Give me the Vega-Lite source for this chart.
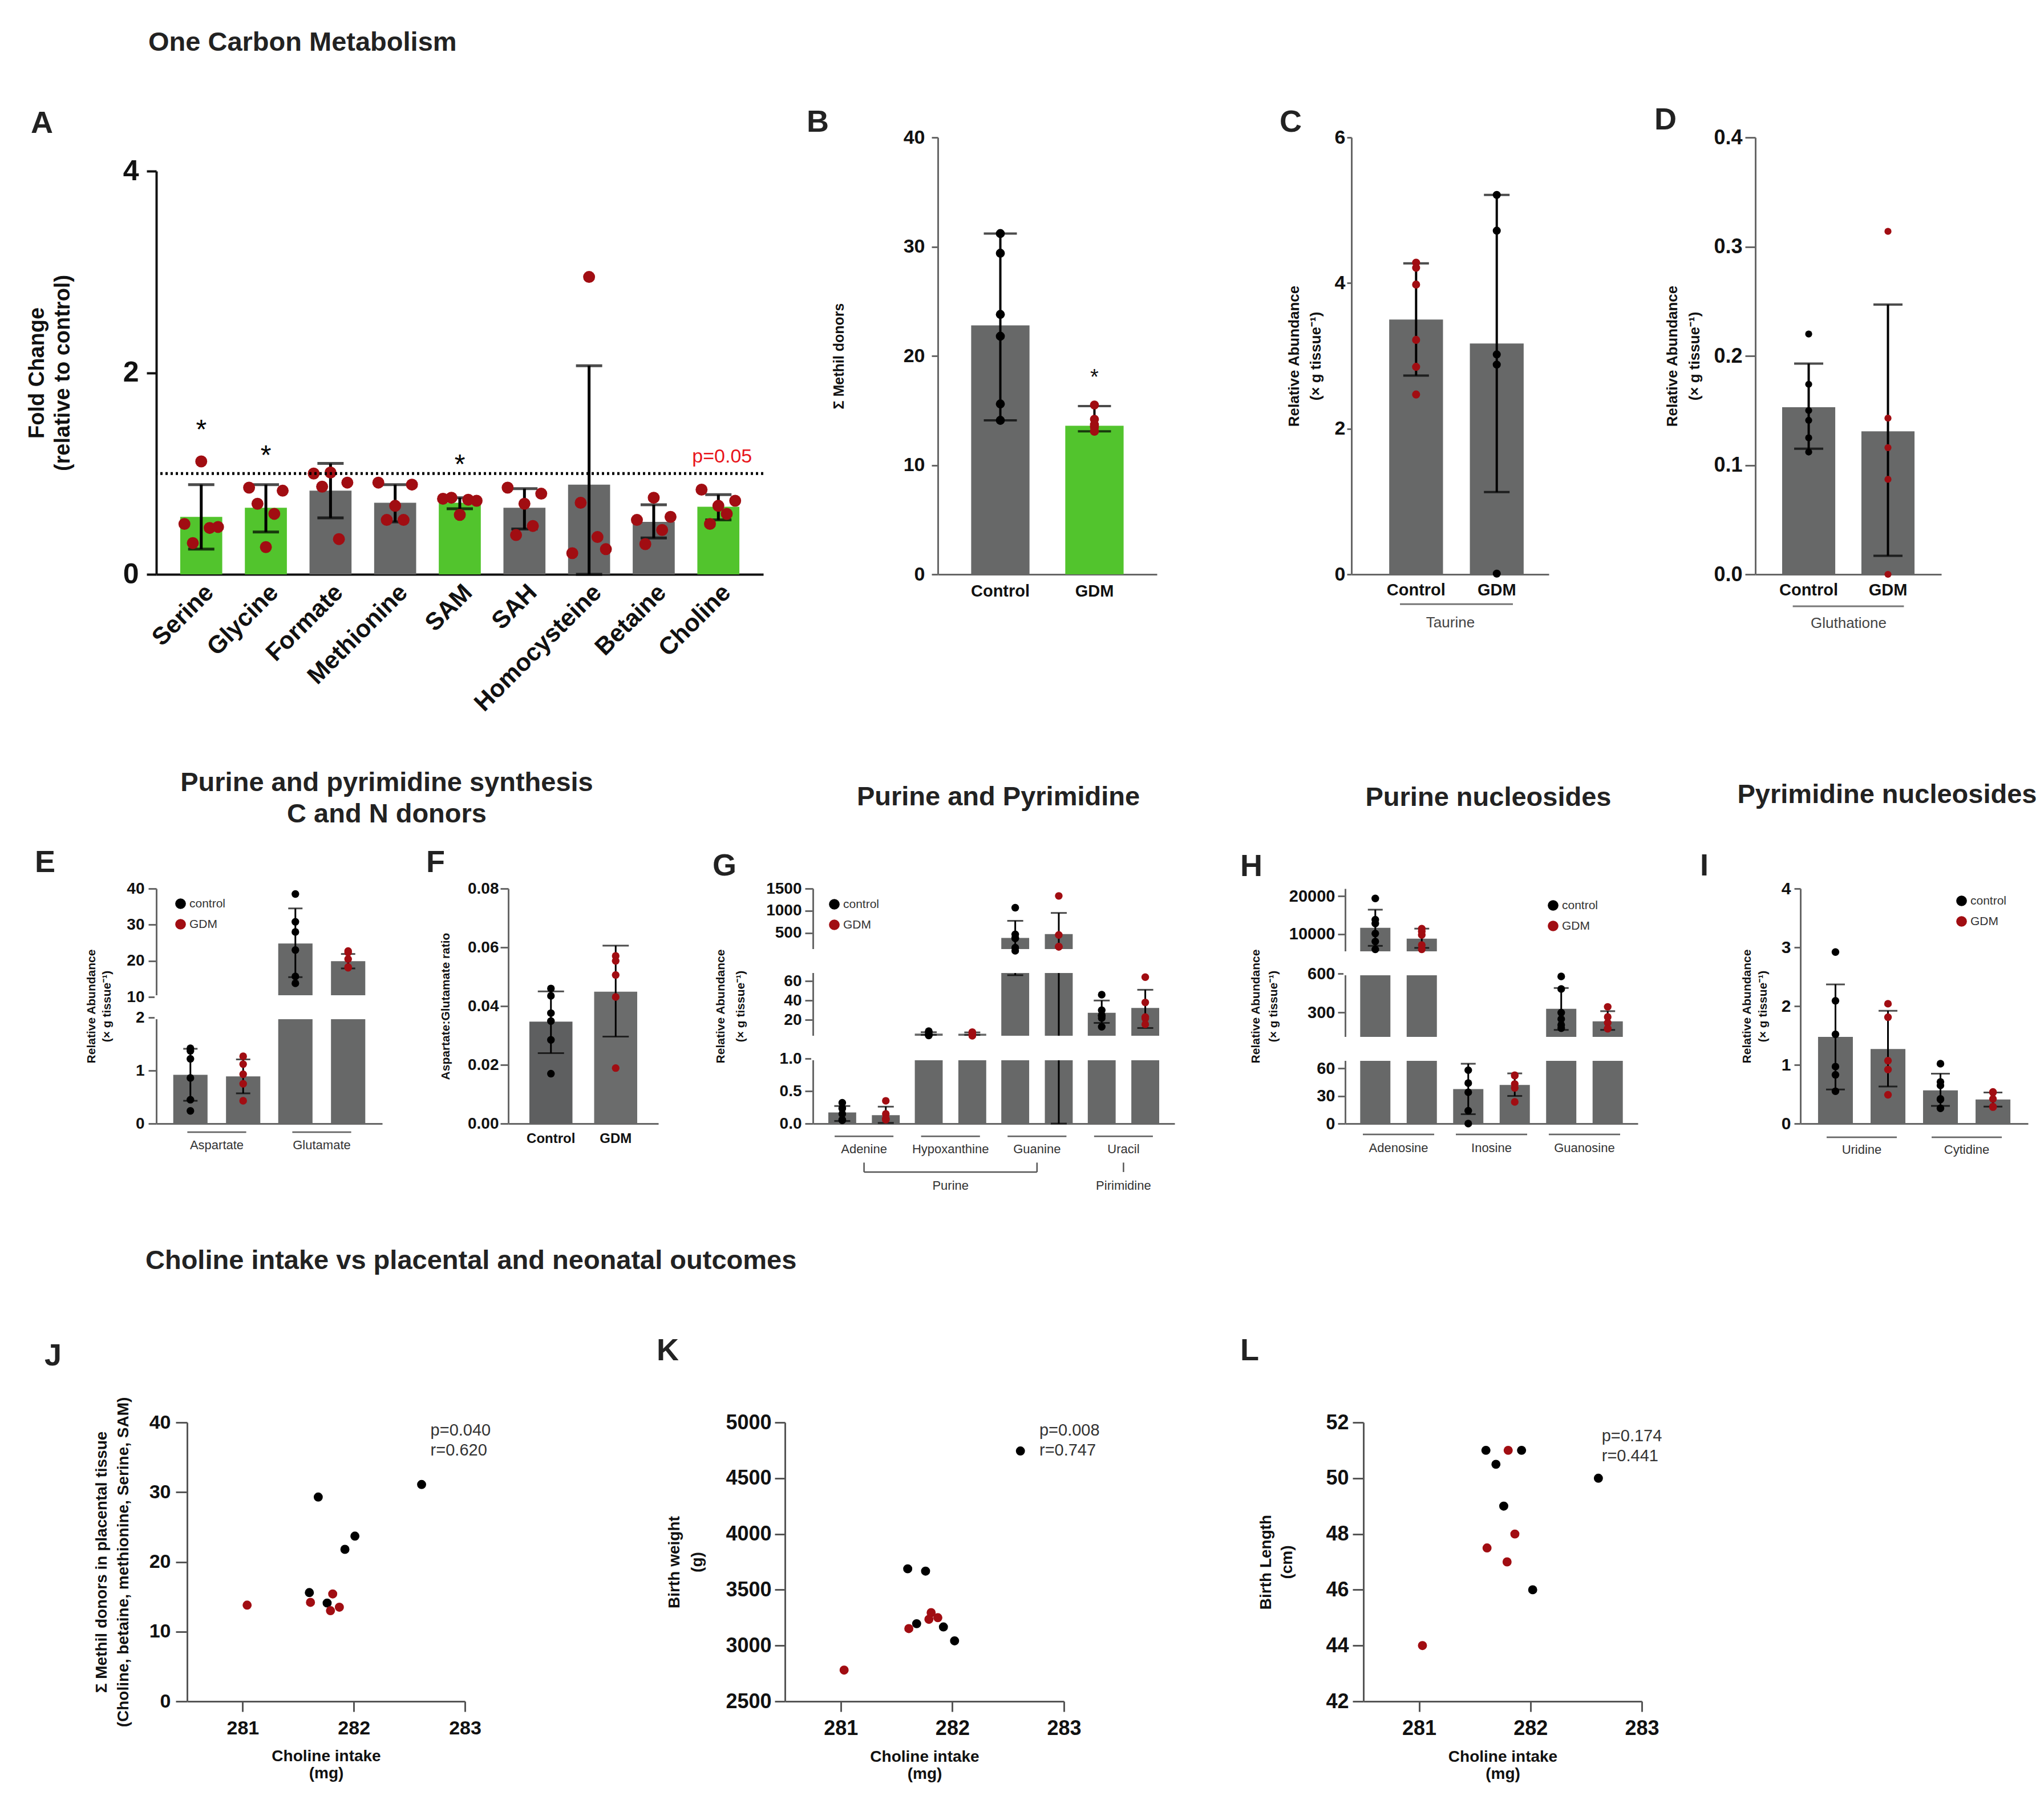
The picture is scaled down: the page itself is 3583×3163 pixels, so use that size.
{
"$schema": "https://vega.github.io/schema/vega-lite/v6.json",
"background": "white",
"padding": {"left": 46, "top": 50, "right": 5, "bottom": 5},
"config": {
  "font": "Liberation Sans",
  "view": {"stroke": null},
  "axis": {"grid": false, "domainColor": "#5a5a5a", "tickColor": "#5a5a5a", "domainWidth": 3, "tickWidth": 3, "labelColor": "#111", "titleColor": "#111", "labelFont": "Liberation Sans", "titleFont": "Liberation Sans", "labelLimit": 1000, "titleLimit": 1500, "labelOverlap": false, "labelFlush": false},
  "title": {"font": "Liberation Sans", "fontWeight": "bold", "color": "#222"},
  "legend": {"labelFont": "Liberation Sans", "labelColor": "#333"}
},
"datasets": {
  "A_bar": [
    {"m": "Serine", "mean": 0.57, "lo": 0.25, "hi": 0.89, "sig": "yes"},
    {"m": "Glycine", "mean": 0.66, "lo": 0.42, "hi": 0.89, "sig": "yes"},
    {"m": "Formate", "mean": 0.83, "lo": 0.56, "hi": 1.10, "sig": "no"},
    {"m": "Methionine", "mean": 0.71, "lo": 0.52, "hi": 0.89, "sig": "no"},
    {"m": "SAM", "mean": 0.71, "lo": 0.65, "hi": 0.76, "sig": "yes"},
    {"m": "SAH", "mean": 0.66, "lo": 0.45, "hi": 0.85, "sig": "no"},
    {"m": "Homocysteine", "mean": 0.89, "lo": 0.0, "hi": 2.07, "sig": "no"},
    {"m": "Betaine", "mean": 0.52, "lo": 0.36, "hi": 0.69, "sig": "no"},
    {"m": "Choline", "mean": 0.67, "lo": 0.54, "hi": 0.79, "sig": "yes"}
  ],
  "A_pts": [
    {"m": "Serine", "s": 1, "v": 0.50}, {"m": "Serine", "s": 2, "v": 0.31}, {"m": "Serine", "s": 3, "v": 1.12}, {"m": "Serine", "s": 4, "v": 0.46}, {"m": "Serine", "s": 5, "v": 0.47},
    {"m": "Glycine", "s": 1, "v": 0.86}, {"m": "Glycine", "s": 2, "v": 0.70}, {"m": "Glycine", "s": 3, "v": 0.27}, {"m": "Glycine", "s": 4, "v": 0.60}, {"m": "Glycine", "s": 5, "v": 0.83},
    {"m": "Formate", "s": 1, "v": 1.00}, {"m": "Formate", "s": 2, "v": 0.87}, {"m": "Formate", "s": 3, "v": 1.01}, {"m": "Formate", "s": 4, "v": 0.35}, {"m": "Formate", "s": 5, "v": 0.91},
    {"m": "Methionine", "s": 1, "v": 0.91}, {"m": "Methionine", "s": 2, "v": 0.54}, {"m": "Methionine", "s": 3, "v": 0.68}, {"m": "Methionine", "s": 4, "v": 0.54}, {"m": "Methionine", "s": 5, "v": 0.89},
    {"m": "SAM", "s": 1, "v": 0.75}, {"m": "SAM", "s": 2, "v": 0.76}, {"m": "SAM", "s": 3, "v": 0.59}, {"m": "SAM", "s": 4, "v": 0.74}, {"m": "SAM", "s": 5, "v": 0.73},
    {"m": "SAH", "s": 1, "v": 0.86}, {"m": "SAH", "s": 2, "v": 0.39}, {"m": "SAH", "s": 3, "v": 0.70}, {"m": "SAH", "s": 4, "v": 0.48}, {"m": "SAH", "s": 5, "v": 0.80},
    {"m": "Homocysteine", "s": 1, "v": 0.21}, {"m": "Homocysteine", "s": 2, "v": 0.71}, {"m": "Homocysteine", "s": 3, "v": 2.95}, {"m": "Homocysteine", "s": 4, "v": 0.37}, {"m": "Homocysteine", "s": 5, "v": 0.25},
    {"m": "Betaine", "s": 1, "v": 0.54}, {"m": "Betaine", "s": 2, "v": 0.30}, {"m": "Betaine", "s": 3, "v": 0.76}, {"m": "Betaine", "s": 4, "v": 0.44}, {"m": "Betaine", "s": 5, "v": 0.57},
    {"m": "Choline", "s": 1, "v": 0.84}, {"m": "Choline", "s": 2, "v": 0.50}, {"m": "Choline", "s": 3, "v": 0.68}, {"m": "Choline", "s": 4, "v": 0.60}, {"m": "Choline", "s": 5, "v": 0.73}
  ],
  "A_ref": [{"y": 1, "t": "p=0.05"}],
  "A_star": [{"m": "Serine", "y": 1.48, "t": "*"}, {"m": "Glycine", "y": 1.23, "t": "*"}, {"m": "SAM", "y": 1.14, "t": "*"}],
  "B_bar": [{"g": "Control", "mean": 22.8, "lo": 14.1, "hi": 31.2}, {"g": "GDM", "mean": 13.6, "lo": 13.1, "hi": 15.4}],
  "B_pts": [
    {"g": "Control", "v": 31.2}, {"g": "Control", "v": 29.4}, {"g": "Control", "v": 23.8}, {"g": "Control", "v": 21.8}, {"g": "Control", "v": 15.6}, {"g": "Control", "v": 14.1},
    {"g": "GDM", "v": 15.5}, {"g": "GDM", "v": 14.2}, {"g": "GDM", "v": 13.7}, {"g": "GDM", "v": 13.5}, {"g": "GDM", "v": 13.1}
  ],
  "B_star": [{"g": "GDM", "y": 18.4, "t": "*"}],
  "C_bar": [{"g": "Control", "mean": 3.50, "lo": 2.73, "hi": 4.27}, {"g": "GDM", "mean": 3.17, "lo": 1.13, "hi": 5.21}],
  "C_pts": [
    {"g": "Control", "v": 4.28}, {"g": "Control", "v": 4.21}, {"g": "Control", "v": 3.98}, {"g": "Control", "v": 3.22}, {"g": "Control", "v": 2.85}, {"g": "Control", "v": 2.47},
    {"g": "GDM", "v": 5.21}, {"g": "GDM", "v": 4.72}, {"g": "GDM", "v": 3.02}, {"g": "GDM", "v": 2.88}, {"g": "GDM", "v": 0.01}
  ],
  "D_bar": [{"g": "Control", "mean": 0.153, "lo": 0.115, "hi": 0.193}, {"g": "GDM", "mean": 0.131, "lo": 0.017, "hi": 0.247}],
  "D_pts": [
    {"g": "Control", "v": 0.220}, {"g": "Control", "v": 0.174}, {"g": "Control", "v": 0.150}, {"g": "Control", "v": 0.141}, {"g": "Control", "v": 0.125}, {"g": "Control", "v": 0.112},
    {"g": "GDM", "v": 0.314}, {"g": "GDM", "v": 0.143}, {"g": "GDM", "v": 0.116}, {"g": "GDM", "v": 0.087}, {"g": "GDM", "v": 0.0}
  ],
  "E_bar": [
    {"m": "Aspartate", "g": "control", "mean": 0.92, "lo": 0.43, "hi": 1.41},
    {"m": "Aspartate", "g": "GDM", "mean": 0.89, "lo": 0.57, "hi": 1.21},
    {"m": "Glutamate", "g": "control", "mean": 24.8, "lo": 15.5, "hi": 34.5},
    {"m": "Glutamate", "g": "GDM", "mean": 19.9, "lo": 17.9, "hi": 21.9}
  ],
  "E_pts": [
    {"m": "Aspartate", "g": "control", "v": 1.37}, {"m": "Aspartate", "g": "control", "v": 1.42}, {"m": "Aspartate", "g": "control", "v": 1.22}, {"m": "Aspartate", "g": "control", "v": 0.86}, {"m": "Aspartate", "g": "control", "v": 0.45}, {"m": "Aspartate", "g": "control", "v": 0.24},
    {"m": "Aspartate", "g": "GDM", "v": 1.27}, {"m": "Aspartate", "g": "GDM", "v": 1.12}, {"m": "Aspartate", "g": "GDM", "v": 0.93}, {"m": "Aspartate", "g": "GDM", "v": 0.75}, {"m": "Aspartate", "g": "GDM", "v": 0.43},
    {"m": "Glutamate", "g": "control", "v": 38.5}, {"m": "Glutamate", "g": "control", "v": 30.8}, {"m": "Glutamate", "g": "control", "v": 28.0}, {"m": "Glutamate", "g": "control", "v": 23.0}, {"m": "Glutamate", "g": "control", "v": 15.7}, {"m": "Glutamate", "g": "control", "v": 13.8},
    {"m": "Glutamate", "g": "GDM", "v": 22.7}, {"m": "Glutamate", "g": "GDM", "v": 22.3}, {"m": "Glutamate", "g": "GDM", "v": 20.5}, {"m": "Glutamate", "g": "GDM", "v": 18.3}, {"m": "Glutamate", "g": "GDM", "v": 18.1}
  ],
  "E_gap": [{"a": 2, "b": 10}],
  "F_bar": [{"g": "Control", "mean": 0.0347, "lo": 0.024, "hi": 0.045}, {"g": "GDM", "mean": 0.0449, "lo": 0.0296, "hi": 0.0606}],
  "F_pts": [
    {"g": "Control", "v": 0.046}, {"g": "Control", "v": 0.0435}, {"g": "Control", "v": 0.0376}, {"g": "Control", "v": 0.0349}, {"g": "Control", "v": 0.0285}, {"g": "Control", "v": 0.017},
    {"g": "GDM", "v": 0.0571}, {"g": "GDM", "v": 0.0554}, {"g": "GDM", "v": 0.0506}, {"g": "GDM", "v": 0.0431}, {"g": "GDM", "v": 0.0189}
  ],
  "G_bar": [
    {"m": "Adenine", "g": "control", "mean": 0.17, "lo": 0.04, "hi": 0.27},
    {"m": "Adenine", "g": "GDM", "mean": 0.13, "lo": 0.01, "hi": 0.26},
    {"m": "Hypoxanthine", "g": "control", "mean": 5.9, "lo": 4.5, "hi": 7.4},
    {"m": "Hypoxanthine", "g": "GDM", "mean": 5.8, "lo": 4.4, "hi": 7.2},
    {"m": "Guanine", "g": "control", "mean": 390, "lo": 66, "hi": 774},
    {"m": "Guanine", "g": "GDM", "mean": 476, "lo": 0, "hi": 952},
    {"m": "Uracil", "g": "control", "mean": 27.4, "lo": 17, "hi": 40},
    {"m": "Uracil", "g": "GDM", "mean": 32.4, "lo": 11.7, "hi": 51}
  ],
  "G_pts": [
    {"m": "Adenine", "g": "control", "v": 0.32}, {"m": "Adenine", "g": "control", "v": 0.24}, {"m": "Adenine", "g": "control", "v": 0.23}, {"m": "Adenine", "g": "control", "v": 0.15}, {"m": "Adenine", "g": "control", "v": 0.06}, {"m": "Adenine", "g": "control", "v": 0.05},
    {"m": "Adenine", "g": "GDM", "v": 0.35}, {"m": "Adenine", "g": "GDM", "v": 0.15}, {"m": "Adenine", "g": "GDM", "v": 0.08}, {"m": "Adenine", "g": "GDM", "v": 0.07}, {"m": "Adenine", "g": "GDM", "v": 0.06},
    {"m": "Hypoxanthine", "g": "control", "v": 5.0}, {"m": "Hypoxanthine", "g": "control", "v": 7.8}, {"m": "Hypoxanthine", "g": "control", "v": 5.5}, {"m": "Hypoxanthine", "g": "control", "v": 8.4}, {"m": "Hypoxanthine", "g": "control", "v": 4.5}, {"m": "Hypoxanthine", "g": "control", "v": 4.0},
    {"m": "Hypoxanthine", "g": "GDM", "v": 4.2}, {"m": "Hypoxanthine", "g": "GDM", "v": 7.5}, {"m": "Hypoxanthine", "g": "GDM", "v": 6.5}, {"m": "Hypoxanthine", "g": "GDM", "v": 6.8}, {"m": "Hypoxanthine", "g": "GDM", "v": 3.8},
    {"m": "Guanine", "g": "control", "v": 1070}, {"m": "Guanine", "g": "control", "v": 470}, {"m": "Guanine", "g": "control", "v": 380}, {"m": "Guanine", "g": "control", "v": 390}, {"m": "Guanine", "g": "control", "v": 170}, {"m": "Guanine", "g": "control", "v": 100},
    {"m": "Guanine", "g": "GDM", "v": 1335}, {"m": "Guanine", "g": "GDM", "v": 456}, {"m": "Guanine", "g": "GDM", "v": 192}, {"m": "Guanine", "g": "GDM", "v": 190}, {"m": "Guanine", "g": "GDM", "v": 194},
    {"m": "Uracil", "g": "control", "v": 46}, {"m": "Uracil", "g": "control", "v": 30}, {"m": "Uracil", "g": "control", "v": 25}, {"m": "Uracil", "g": "control", "v": 24}, {"m": "Uracil", "g": "control", "v": 22}, {"m": "Uracil", "g": "control", "v": 13},
    {"m": "Uracil", "g": "GDM", "v": 64}, {"m": "Uracil", "g": "GDM", "v": 38}, {"m": "Uracil", "g": "GDM", "v": 23}, {"m": "Uracil", "g": "GDM", "v": 21.5}, {"m": "Uracil", "g": "GDM", "v": 15.5}
  ],
  "G_gap": [{"a": 1, "b": 2}, {"a": 70, "b": 100}],
  "G_lbl": [{"m": "Hypoxanthine", "t": "Purine"}, {"m": "Uracil", "t": "Pirimidine"}],
  "H_bar": [
    {"m": "Adenosine", "g": "control", "mean": 11670, "lo": 6900, "hi": 16440},
    {"m": "Adenosine", "g": "GDM", "mean": 8790, "lo": 6360, "hi": 11440},
    {"m": "Inosine", "g": "control", "mean": 37.5, "lo": 10.2, "hi": 65},
    {"m": "Inosine", "g": "GDM", "mean": 42, "lo": 30, "hi": 54.5},
    {"m": "Guanosine", "g": "control", "mean": 329, "lo": 167, "hi": 489},
    {"m": "Guanosine", "g": "GDM", "mean": 233, "lo": 167, "hi": 311}
  ],
  "H_pts": [
    {"m": "Adenosine", "g": "control", "v": 19400}, {"m": "Adenosine", "g": "control", "v": 13800}, {"m": "Adenosine", "g": "control", "v": 12800}, {"m": "Adenosine", "g": "control", "v": 10150}, {"m": "Adenosine", "g": "control", "v": 8030}, {"m": "Adenosine", "g": "control", "v": 5980},
    {"m": "Adenosine", "g": "GDM", "v": 11440}, {"m": "Adenosine", "g": "GDM", "v": 10680}, {"m": "Adenosine", "g": "GDM", "v": 9770}, {"m": "Adenosine", "g": "GDM", "v": 7120}, {"m": "Adenosine", "g": "GDM", "v": 5980},
    {"m": "Inosine", "g": "control", "v": 58}, {"m": "Inosine", "g": "control", "v": 44}, {"m": "Inosine", "g": "control", "v": 34}, {"m": "Inosine", "g": "control", "v": 14}, {"m": "Inosine", "g": "control", "v": 0},
    {"m": "Inosine", "g": "GDM", "v": 52.6}, {"m": "Inosine", "g": "GDM", "v": 52.0}, {"m": "Inosine", "g": "GDM", "v": 43}, {"m": "Inosine", "g": "GDM", "v": 38.7}, {"m": "Inosine", "g": "GDM", "v": 23.5},
    {"m": "Guanosine", "g": "control", "v": 578}, {"m": "Guanosine", "g": "control", "v": 482}, {"m": "Guanosine", "g": "control", "v": 300}, {"m": "Guanosine", "g": "control", "v": 250}, {"m": "Guanosine", "g": "control", "v": 205}, {"m": "Guanosine", "g": "control", "v": 180},
    {"m": "Guanosine", "g": "GDM", "v": 344}, {"m": "Guanosine", "g": "GDM", "v": 267}, {"m": "Guanosine", "g": "GDM", "v": 222}, {"m": "Guanosine", "g": "GDM", "v": 178}, {"m": "Guanosine", "g": "GDM", "v": 176}
  ],
  "H_gap": [{"a": 70, "b": 100}, {"a": 600, "b": 5000}],
  "I_bar": [
    {"m": "Uridine", "g": "control", "mean": 1.476, "lo": 0.58, "hi": 2.37},
    {"m": "Uridine", "g": "GDM", "mean": 1.27, "lo": 0.63, "hi": 1.92},
    {"m": "Cytidine", "g": "control", "mean": 0.566, "lo": 0.30, "hi": 0.85},
    {"m": "Cytidine", "g": "GDM", "mean": 0.41, "lo": 0.29, "hi": 0.53}
  ],
  "I_pts": [
    {"m": "Uridine", "g": "control", "v": 2.92}, {"m": "Uridine", "g": "control", "v": 2.09}, {"m": "Uridine", "g": "control", "v": 1.52}, {"m": "Uridine", "g": "control", "v": 0.97}, {"m": "Uridine", "g": "control", "v": 0.83}, {"m": "Uridine", "g": "control", "v": 0.55},
    {"m": "Uridine", "g": "GDM", "v": 2.04}, {"m": "Uridine", "g": "GDM", "v": 1.81}, {"m": "Uridine", "g": "GDM", "v": 1.07}, {"m": "Uridine", "g": "GDM", "v": 0.92}, {"m": "Uridine", "g": "GDM", "v": 0.49},
    {"m": "Cytidine", "g": "control", "v": 1.02}, {"m": "Cytidine", "g": "control", "v": 0.71}, {"m": "Cytidine", "g": "control", "v": 0.65}, {"m": "Cytidine", "g": "control", "v": 0.42}, {"m": "Cytidine", "g": "control", "v": 0.41}, {"m": "Cytidine", "g": "control", "v": 0.26},
    {"m": "Cytidine", "g": "GDM", "v": 0.54}, {"m": "Cytidine", "g": "GDM", "v": 0.53}, {"m": "Cytidine", "g": "GDM", "v": 0.42}, {"m": "Cytidine", "g": "GDM", "v": 0.29}, {"m": "Cytidine", "g": "GDM", "v": 0.28}
  ],
  "J_pts": [
    {"g": "control", "c": 281.68, "v": 29.3}, {"g": "control", "c": 281.92, "v": 21.8}, {"g": "control", "c": 282.01, "v": 23.7}, {"g": "control", "c": 282.61, "v": 31.1}, {"g": "control", "c": 281.60, "v": 15.6}, {"g": "control", "c": 281.76, "v": 14.1},
    {"g": "GDM", "c": 281.04, "v": 13.8}, {"g": "GDM", "c": 281.61, "v": 14.2}, {"g": "GDM", "c": 281.81, "v": 15.4}, {"g": "GDM", "c": 281.79, "v": 13.0}, {"g": "GDM", "c": 281.87, "v": 13.5}
  ],
  "J_txt": [{"c": 282.69, "v": 40, "t": "p=0.040\nr=0.620"}],
  "K_pts": [
    {"g": "control", "c": 281.60, "v": 3688}, {"g": "control", "c": 281.76, "v": 3667}, {"g": "control", "c": 281.68, "v": 3196}, {"g": "control", "c": 281.92, "v": 3167}, {"g": "control", "c": 282.02, "v": 3042}, {"g": "control", "c": 282.61, "v": 4744},
    {"g": "GDM", "c": 281.03, "v": 2780}, {"g": "GDM", "c": 281.61, "v": 3152}, {"g": "GDM", "c": 281.81, "v": 3295}, {"g": "GDM", "c": 281.79, "v": 3235}, {"g": "GDM", "c": 281.87, "v": 3250}
  ],
  "K_txt": [{"c": 282.78, "v": 5000, "t": "p=0.008\nr=0.747"}],
  "L_pts": [
    {"g": "control", "c": 281.60, "v": 51.0}, {"g": "control", "c": 281.92, "v": 51.0}, {"g": "control", "c": 281.69, "v": 50.5}, {"g": "control", "c": 281.76, "v": 49.0}, {"g": "control", "c": 282.02, "v": 46.0}, {"g": "control", "c": 282.61, "v": 50.0},
    {"g": "GDM", "c": 281.03, "v": 44.0}, {"g": "GDM", "c": 281.61, "v": 47.5}, {"g": "GDM", "c": 281.80, "v": 51.0}, {"g": "GDM", "c": 281.86, "v": 48.0}, {"g": "GDM", "c": 281.79, "v": 47.0}
  ],
  "L_txt": [{"c": 282.64, "v": 51.8, "t": "p=0.174\nr=0.441"}]
},
"bounds": "flush",
"spacing": 1317,
"resolve": {"scale": {"color": "independent", "fill": "independent", "xOffset": "independent", "x": "independent", "y": "independent"}, "legend": {"color": "independent"}},
"vconcat": [
 {
  "bounds": "flush",
  "spacing": 306,
  "title": {"text": "One Carbon Metabolism", "anchor": "start", "frame": "group", "dx": -14, "offset": 85, "fontSize": 47},
  "resolve": {"scale": {"color": "independent", "fill": "independent", "xOffset": "independent", "x": "independent", "y": "independent"}, "legend": {"color": "independent"}},
  "hconcat": [
   {
    "width": 1064, "height": 766,
    "title": {"text": "A", "anchor": "start", "frame": "group", "dx": -220, "offset": -2.5, "fontSize": 54},
    "resolve": {"scale": {"xOffset": "independent"}},
    "layer": [
     {"data": {"name": "A_bar"}, "mark": {"type": "bar"},
      "encoding": {
       "x": {"field": "m", "type": "nominal", "scale": {"domain": ["Serine","Glycine","Formate","Methionine","SAM","SAH","Homocysteine","Betaine","Choline"], "paddingInner": 0.35, "paddingOuter": 0.37},
             "axis": {"title": null, "labelAngle": -45, "labelAlign": "right", "labelBaseline": "top", "labelFontSize": 43, "labelFontWeight": "bold", "ticks": false, "tickSize": 0, "labelPadding": 10, "domainColor": "#111", "domainWidth": 4}},
       "y": {"field": "mean", "type": "quantitative", "scale": {"domain": [0, 4], "range": [766, 59], "nice": false},
             "axis": {"title": ["Fold Change", "(relative to control)"], "values": [0, 2, 4], "format": "d", "labelFontSize": 50, "labelFontWeight": "bold", "tickSize": 17, "labelPadding": 14, "titleFontSize": 38, "titleFontWeight": "bold", "titleLineHeight": 45, "titlePadding": 86, "domainColor": "#111", "tickColor": "#111", "domainWidth": 4, "tickWidth": 4}},
       "fill": {"field": "sig", "type": "nominal", "scale": {"domain": ["yes", "no"], "range": ["#52C42D", "#676868"]}, "legend": null}
      }},
     {"data": {"name": "A_bar"}, "mark": {"type": "rule", "strokeWidth": 5, "color": "#000"},
      "encoding": {"x": {"field": "m", "type": "nominal"}, "y": {"field": "lo", "type": "quantitative"}, "y2": {"field": "hi"}}},
     {"data": {"name": "A_bar"}, "mark": {"type": "tick", "thickness": 5, "size": 46, "color": "#000"},
      "encoding": {"x": {"field": "m", "type": "nominal"}, "y": {"field": "lo", "type": "quantitative"}}},
     {"data": {"name": "A_bar"}, "mark": {"type": "tick", "thickness": 5, "size": 46, "color": "#000"},
      "encoding": {"x": {"field": "m", "type": "nominal"}, "y": {"field": "hi", "type": "quantitative"}}},
     {"data": {"name": "A_pts"}, "mark": {"type": "circle", "size": 440, "opacity": 1, "color": "#A10D12"},
      "encoding": {"x": {"field": "m", "type": "nominal"}, "xOffset": {"field": "s", "type": "nominal"}, "y": {"field": "v", "type": "quantitative"}}},
     {"data": {"name": "A_ref"}, "mark": {"type": "rule", "strokeDash": [4, 5], "strokeWidth": 5, "color": "#000"},
      "encoding": {"y": {"field": "y", "type": "quantitative"}}},
     {"data": {"name": "A_ref"}, "mark": {"type": "text", "align": "right", "baseline": "middle", "dx": 59, "dy": -29, "fontSize": 34, "color": "#E8141B"},
      "encoding": {"x": {"datum": "Choline", "type": "nominal"}, "y": {"field": "y", "type": "quantitative"}, "text": {"field": "t"}}},
     {"data": {"name": "A_star"}, "mark": {"type": "text", "baseline": "middle", "dy": 10, "fontSize": 48, "color": "#000"},
      "encoding": {"x": {"field": "m", "type": "nominal"}, "y": {"field": "y", "type": "quantitative"}, "text": {"field": "t"}}}
    ]
   },
   {
    "width": 419, "height": 766,
    "title": {"text": "B", "anchor": "start", "frame": "group", "dx": -230, "offset": -17.5, "fontSize": 54},
    "layer": [
     {"data": {"name": "B_bar"}, "mark": {"type": "bar"},
      "encoding": {
       "x": {"field": "g", "type": "nominal", "scale": {"domain": ["Control", "GDM"], "range": [0, 384], "paddingInner": 0.38, "paddingOuter": 0.354},
             "axis": {"title": null, "labelAngle": 0, "labelFontSize": 29, "labelFontWeight": "bold", "ticks": false, "tickSize": 0, "labelBaseline": "middle", "labelPadding": 29, "domainColor": "#666"}},
       "y": {"field": "mean", "type": "quantitative", "scale": {"domain": [0, 40], "nice": false},
             "axis": {"title": "Σ Methil donors", "values": [0, 10, 20, 30, 40], "labelFontSize": 34, "labelFontWeight": "bold", "tickSize": 11, "labelPadding": 12, "titleFontSize": 25, "titleFontWeight": "bold", "titlePadding": 100, "domainColor": "#666", "tickColor": "#666"}},
       "fill": {"field": "g", "type": "nominal", "scale": {"domain": ["Control", "GDM"], "range": ["#676868", "#52C42D"]}, "legend": null}
      }},
     {"data": {"name": "B_bar"}, "mark": {"type": "rule", "strokeWidth": 4, "color": "#000"},
      "encoding": {"x": {"field": "g", "type": "nominal"}, "y": {"field": "lo", "type": "quantitative"}, "y2": {"field": "hi"}}},
     {"data": {"name": "B_bar"}, "mark": {"type": "tick", "thickness": 4, "size": 58, "color": "#000"},
      "encoding": {"x": {"field": "g", "type": "nominal"}, "y": {"field": "lo", "type": "quantitative"}}},
     {"data": {"name": "B_bar"}, "mark": {"type": "tick", "thickness": 4, "size": 58, "color": "#000"},
      "encoding": {"x": {"field": "g", "type": "nominal"}, "y": {"field": "hi", "type": "quantitative"}}},
     {"data": {"name": "B_pts"}, "mark": {"type": "circle", "size": 250, "opacity": 1},
      "encoding": {"x": {"field": "g", "type": "nominal"}, "y": {"field": "v", "type": "quantitative"},
       "color": {"field": "g", "type": "nominal", "scale": {"domain": ["Control", "GDM"], "range": ["#000000", "#A10D12"]}, "legend": null}}},
     {"data": {"name": "B_star"}, "mark": {"type": "text", "baseline": "middle", "dy": 8, "fontSize": 38, "color": "#111"},
      "encoding": {"x": {"field": "g", "type": "nominal"}, "y": {"field": "y", "type": "quantitative"}, "text": {"field": "t"}}}
    ]
   },
   {
    "width": 402, "height": 766,
    "title": {"text": "C", "anchor": "start", "frame": "group", "dx": -126, "offset": -17.5, "fontSize": 54},
    "layer": [
     {"data": {"name": "C_bar"}, "mark": {"type": "bar", "color": "#676868"},
      "encoding": {
       "x": {"field": "g", "type": "nominal", "scale": {"domain": ["Control", "GDM"], "range": [0, 346], "paddingInner": 0.333, "paddingOuter": 0.39, "align": 0.6},
             "axis": {"title": "Taurine", "titleFontSize": 26, "titleFontWeight": "normal", "titleColor": "#444", "titlePadding": 29, "labelAngle": 0, "labelFontSize": 29, "labelFontWeight": "bold", "ticks": false, "tickSize": 0, "labelBaseline": "middle", "labelPadding": 27, "domainColor": "#666"}},
       "y": {"field": "mean", "type": "quantitative", "scale": {"domain": [0, 6], "nice": false},
             "axis": {"title": ["Relative Abundance", "(× g tissue⁻¹)"], "values": [0, 2, 4, 6], "format": "d", "labelFontSize": 34, "labelFontWeight": "bold", "tickSize": 8, "labelPadding": 3, "titleFontSize": 26, "titleFontWeight": "bold", "titleLineHeight": 38, "titlePadding": 20, "domainColor": "#666", "tickColor": "#666"}}
      }},
     {"data": {"name": "C_bar"}, "mark": {"type": "rule", "strokeWidth": 4, "color": "#000"},
      "encoding": {"x": {"field": "g", "type": "nominal"}, "y": {"field": "lo", "type": "quantitative"}, "y2": {"field": "hi"}}},
     {"data": {"name": "C_bar"}, "mark": {"type": "tick", "thickness": 4, "size": 45, "color": "#000"},
      "encoding": {"x": {"field": "g", "type": "nominal"}, "y": {"field": "lo", "type": "quantitative"}}},
     {"data": {"name": "C_bar"}, "mark": {"type": "tick", "thickness": 4, "size": 45, "color": "#000"},
      "encoding": {"x": {"field": "g", "type": "nominal"}, "y": {"field": "hi", "type": "quantitative"}}},
     {"data": {"name": "C_pts"}, "mark": {"type": "circle", "size": 200, "opacity": 1},
      "encoding": {"x": {"field": "g", "type": "nominal"}, "y": {"field": "v", "type": "quantitative"},
       "color": {"field": "g", "type": "nominal", "scale": {"domain": ["Control", "GDM"], "range": ["#A10D12", "#000000"]}, "legend": null}}},
     {"data": {"values": [{}]}, "mark": {"type": "rule", "strokeWidth": 3, "color": "#777"},
      "encoding": {"x": {"datum": "Control", "type": "nominal", "bandPosition": 0.2}, "x2": {"datum": "GDM", "bandPosition": 0.8}, "y": {"datum": -0.41, "type": "quantitative"}}}
    ]
   },
   {
    "width": 326, "height": 766,
    "title": {"text": "D", "anchor": "start", "frame": "group", "dx": -177, "offset": -14.5, "fontSize": 54},
    "layer": [
     {"data": {"name": "D_bar"}, "mark": {"type": "bar", "color": "#676868"},
      "encoding": {
       "x": {"field": "g", "type": "nominal", "scale": {"domain": ["Control", "GDM"], "paddingInner": 0.33, "paddingOuter": 0.338},
             "axis": {"title": "Gluthatione", "titleFontSize": 26, "titleFontWeight": "normal", "titleColor": "#444", "titlePadding": 30, "labelAngle": 0, "labelFontSize": 29, "labelFontWeight": "bold", "ticks": false, "tickSize": 0, "labelBaseline": "middle", "labelPadding": 27, "domainColor": "#666"}},
       "y": {"field": "mean", "type": "quantitative", "scale": {"domain": [0, 0.4], "nice": false},
             "axis": {"title": ["Relative Abundance", "(× g tissue⁻¹)"], "values": [0, 0.1, 0.2, 0.3, 0.4], "format": ".1f", "labelFontSize": 36, "labelFontWeight": "bold", "tickSize": 18, "labelPadding": 5, "titleFontSize": 26, "titleFontWeight": "bold", "titleLineHeight": 39, "titlePadding": 20, "domainColor": "#666", "tickColor": "#666"}}
      }},
     {"data": {"name": "D_bar"}, "mark": {"type": "rule", "strokeWidth": 4, "color": "#000"},
      "encoding": {"x": {"field": "g", "type": "nominal"}, "y": {"field": "lo", "type": "quantitative"}, "y2": {"field": "hi"}}},
     {"data": {"name": "D_bar"}, "mark": {"type": "tick", "thickness": 4, "size": 51, "color": "#000"},
      "encoding": {"x": {"field": "g", "type": "nominal"}, "y": {"field": "lo", "type": "quantitative"}}},
     {"data": {"name": "D_bar"}, "mark": {"type": "tick", "thickness": 4, "size": 51, "color": "#000"},
      "encoding": {"x": {"field": "g", "type": "nominal"}, "y": {"field": "hi", "type": "quantitative"}}},
     {"data": {"name": "D_pts"}, "mark": {"type": "circle", "size": 150, "opacity": 1},
      "encoding": {"x": {"field": "g", "type": "nominal"}, "y": {"field": "v", "type": "quantitative"},
       "color": {"field": "g", "type": "nominal", "scale": {"domain": ["Control", "GDM"], "range": ["#000000", "#A10D12"]}, "legend": null}}},
     {"data": {"values": [{}]}, "mark": {"type": "rule", "strokeWidth": 3, "color": "#777"},
      "encoding": {"x": {"datum": "Control", "type": "nominal", "bandPosition": 0.2}, "x2": {"datum": "GDM", "bandPosition": 0.8}, "y": {"datum": -0.0292, "type": "quantitative"}}}
    ]
   }
  ]
 },
 {
  "bounds": "flush",
  "spacing": 936,
  "resolve": {"scale": {"color": "independent", "fill": "independent", "xOffset": "independent", "x": "independent", "y": "independent"}, "legend": {"color": "independent"}},
  "vconcat": [
   {
    "bounds": "flush",
    "spacing": 1151,
    "resolve": {"scale": {"color": "independent", "fill": "independent", "xOffset": "independent", "x": "independent", "y": "independent"}, "legend": {"color": "independent"}},
    "hconcat": [
     {
      "bounds": "flush",
      "spacing": 221,
      "title": {"text": ["Purine and pyrimidine synthesis", "C and N donors"], "anchor": "middle", "frame": "group", "dx": 404, "offset": 33.5, "fontSize": 47, "lineHeight": 55},
      "resolve": {"scale": {"color": "independent", "fill": "independent", "xOffset": "independent", "x": "independent", "y": "independent"}, "legend": {"color": "independent"}},
      "hconcat": [
       {
        "width": 396, "height": 412,
        "title": {"text": "E", "anchor": "start", "frame": "group", "dx": -213, "offset": 4.5, "fontSize": 54},
        "layer": [
         {"data": {"name": "E_bar"}, "mark": {"type": "bar", "color": "#676868"},
          "encoding": {
           "x": {"field": "m", "type": "nominal", "scale": {"domain": ["Aspartate", "Glutamate"], "paddingInner": 0, "paddingOuter": 0.076},
                 "axis": {"title": null, "labelAngle": 0, "labelFontSize": 22, "labelFontWeight": "normal", "labelColor": "#333", "ticks": false, "tickSize": 0, "labelBaseline": "middle", "labelPadding": 37, "domainColor": "#666"}},
           "xOffset": {"field": "g", "type": "nominal", "scale": {"domain": ["control", "GDM"], "paddingInner": 0.35, "paddingOuter": 0.17}},
           "y": {"field": "mean", "type": "quantitative", "scale": {"domain": [0, 2, 10, 40], "range": [412, 226, 190, 0], "nice": false, "zero": false},
                 "axis": {"title": ["Relative Abundance", "(× g tissue⁻¹)"], "values": [0, 1, 2, 10, 20, 30, 40], "format": "d", "labelFontSize": 28, "labelFontWeight": "bold", "tickSize": 14, "labelPadding": 7, "titleFontSize": 21, "titleFontWeight": "bold", "titleLineHeight": 27, "titlePadding": 24, "domainColor": "#666", "tickColor": "#666"}}
          }},
         {"data": {"name": "E_bar"}, "mark": {"type": "rule", "strokeWidth": 3, "color": "#000"},
          "encoding": {"x": {"field": "m", "type": "nominal"}, "xOffset": {"field": "g", "type": "nominal"}, "y": {"field": "lo", "type": "quantitative"}, "y2": {"field": "hi"}}},
         {"data": {"name": "E_bar"}, "mark": {"type": "tick", "thickness": 3, "size": 25, "color": "#000"},
          "encoding": {"x": {"field": "m", "type": "nominal"}, "xOffset": {"field": "g", "type": "nominal"}, "y": {"field": "lo", "type": "quantitative"}}},
         {"data": {"name": "E_bar"}, "mark": {"type": "tick", "thickness": 3, "size": 25, "color": "#000"},
          "encoding": {"x": {"field": "m", "type": "nominal"}, "xOffset": {"field": "g", "type": "nominal"}, "y": {"field": "hi", "type": "quantitative"}}},
         {"data": {"name": "E_gap"}, "mark": {"type": "rect", "fill": "white", "stroke": "white", "strokeWidth": 6},
          "encoding": {"y": {"field": "a", "type": "quantitative"}, "y2": {"field": "b"}}},
         {"data": {"name": "E_pts"}, "mark": {"type": "circle", "size": 180, "opacity": 1},
          "encoding": {"x": {"field": "m", "type": "nominal"}, "xOffset": {"field": "g", "type": "nominal"}, "y": {"field": "v", "type": "quantitative"},
           "color": {"field": "g", "type": "nominal", "scale": {"domain": ["control", "GDM"], "range": ["#000000", "#A10D12"]},
            "legend": {"orient": "none", "legendX": 32, "legendY": 16, "title": null, "symbolType": "circle", "symbolSize": 350, "labelFontSize": 21, "rowPadding": 14, "labelOffset": 5, "symbolStrokeWidth": 0, "padding": 0}}}},
         {"data": {"name": "E_bar"}, "mark": {"type": "tick", "thickness": 2.5, "size": 103, "color": "#555"},
          "encoding": {"x": {"field": "m", "type": "nominal"}, "y": {"datum": -0.16, "type": "quantitative"}}}
        ]
       },
       {
        "width": 313, "height": 412,
        "title": {"text": "F", "anchor": "start", "frame": "group", "dx": -144, "offset": 4.5, "fontSize": 54},
        "layer": [
         {"data": {"name": "F_bar"}, "mark": {"type": "bar"},
          "encoding": {
           "x": {"field": "g", "type": "nominal", "scale": {"domain": ["Control", "GDM"], "range": [0, 263], "paddingInner": 0.335, "paddingOuter": 0.326},
                 "axis": {"title": null, "labelAngle": 0, "labelFontSize": 24, "labelFontWeight": "bold", "ticks": false, "tickSize": 0, "labelBaseline": "middle", "labelPadding": 26, "domainColor": "#666"}},
           "y": {"field": "mean", "type": "quantitative", "scale": {"domain": [0, 0.08], "nice": false},
                 "axis": {"title": "Aspartate:Glutamate ratio", "values": [0, 0.02, 0.04, 0.06, 0.08], "format": ".2f", "labelFontSize": 28, "labelFontWeight": "bold", "tickSize": 14, "labelPadding": 3, "titleFontSize": 21, "titleFontWeight": "bold", "titlePadding": 28, "domainColor": "#666", "tickColor": "#666"}},
           "fill": {"field": "g", "type": "nominal", "scale": {"domain": ["Control", "GDM"], "range": ["#5E5F60", "#6B6C6C"]}, "legend": null}
          }},
         {"data": {"name": "F_bar"}, "mark": {"type": "rule", "strokeWidth": 3, "color": "#000"},
          "encoding": {"x": {"field": "g", "type": "nominal"}, "y": {"field": "lo", "type": "quantitative"}, "y2": {"field": "hi"}}},
         {"data": {"name": "F_bar"}, "mark": {"type": "tick", "thickness": 3, "size": 46, "color": "#000"},
          "encoding": {"x": {"field": "g", "type": "nominal"}, "y": {"field": "lo", "type": "quantitative"}}},
         {"data": {"name": "F_bar"}, "mark": {"type": "tick", "thickness": 3, "size": 46, "color": "#000"},
          "encoding": {"x": {"field": "g", "type": "nominal"}, "y": {"field": "hi", "type": "quantitative"}}},
         {"data": {"name": "F_pts"}, "mark": {"type": "circle", "size": 180, "opacity": 1},
          "encoding": {"x": {"field": "g", "type": "nominal"}, "y": {"field": "v", "type": "quantitative"},
           "color": {"field": "g", "type": "nominal", "scale": {"domain": ["Control", "GDM"], "range": ["#000000", "#A10D12"]}, "legend": null}}}
        ]
       }
      ]
     },
     {
      "bounds": "flush",
      "spacing": 933,
      "resolve": {"scale": {"color": "independent", "fill": "independent", "xOffset": "independent", "x": "independent", "y": "independent"}, "legend": {"color": "independent"}},
      "hconcat": [
       {
        "title": {"text": "Purine and Pyrimidine", "anchor": "middle", "frame": "group", "dx": 325, "offset": 69.5, "fontSize": 47},
        "resolve": {"scale": {"color": "independent", "fill": "independent", "xOffset": "independent", "x": "independent", "y": "independent"}, "legend": {"color": "independent"}},
        "hconcat": [
         {
          "width": 712, "height": 412,
          "title": {"text": "G", "anchor": "start", "frame": "group", "dx": -176, "offset": -1.5, "fontSize": 54},
          "layer": [
           {"data": {"name": "G_bar"}, "mark": {"type": "bar", "color": "#676868"},
            "encoding": {
             "x": {"field": "m", "type": "nominal", "scale": {"domain": ["Adenine", "Hypoxanthine", "Guanine", "Uracil"], "range": [0, 634], "paddingInner": 0, "paddingOuter": 0.091},
                   "axis": {"title": null, "labelAngle": 0, "labelFontSize": 22, "labelFontWeight": "normal", "labelColor": "#333", "ticks": false, "tickSize": 0, "labelBaseline": "middle", "labelPadding": 44, "domainColor": "#666"}},
             "xOffset": {"field": "g", "type": "nominal", "scale": {"domain": ["control", "GDM"], "paddingInner": 0.36, "paddingOuter": 0.173}},
             "y": {"field": "mean", "type": "quantitative", "scale": {"domain": [0, 1, 2, 70, 100, 1500], "range": [412, 298, 261, 145, 109, 0], "nice": false, "zero": false},
                   "axis": {"title": ["Relative Abundance", "(× g tissue⁻¹)"], "values": [0, 0.5, 1, 20, 40, 60, 500, 1000, 1500], "labelExpr": "datum.value <= 1 ? format(datum.value, '.1f') : format(datum.value, 'd')", "labelFontSize": 28, "labelFontWeight": "bold", "tickSize": 14, "labelPadding": 6, "titleFontSize": 21, "titleFontWeight": "bold", "titleLineHeight": 35, "titlePadding": 34, "domainColor": "#666", "tickColor": "#666"}}
            }},
           {"data": {"name": "G_bar"}, "mark": {"type": "rule", "strokeWidth": 3, "color": "#000"},
            "encoding": {"x": {"field": "m", "type": "nominal"}, "xOffset": {"field": "g", "type": "nominal"}, "y": {"field": "lo", "type": "quantitative"}, "y2": {"field": "hi"}}},
           {"data": {"name": "G_bar"}, "mark": {"type": "tick", "thickness": 3, "size": 28, "color": "#000"},
            "encoding": {"x": {"field": "m", "type": "nominal"}, "xOffset": {"field": "g", "type": "nominal"}, "y": {"field": "lo", "type": "quantitative"}}},
           {"data": {"name": "G_bar"}, "mark": {"type": "tick", "thickness": 3, "size": 28, "color": "#000"},
            "encoding": {"x": {"field": "m", "type": "nominal"}, "xOffset": {"field": "g", "type": "nominal"}, "y": {"field": "hi", "type": "quantitative"}}},
           {"data": {"name": "G_gap"}, "mark": {"type": "rect", "fill": "white", "stroke": "white", "strokeWidth": 6},
            "encoding": {"y": {"field": "a", "type": "quantitative"}, "y2": {"field": "b"}}},
           {"data": {"name": "G_pts"}, "mark": {"type": "circle", "size": 180, "opacity": 1},
            "encoding": {"x": {"field": "m", "type": "nominal"}, "xOffset": {"field": "g", "type": "nominal"}, "y": {"field": "v", "type": "quantitative"},
             "color": {"field": "g", "type": "nominal", "scale": {"domain": ["control", "GDM"], "range": ["#000000", "#A10D12"]},
              "legend": {"orient": "none", "legendX": 27, "legendY": 17, "title": null, "symbolType": "circle", "symbolSize": 350, "labelFontSize": 21, "rowPadding": 14, "labelOffset": 5, "symbolStrokeWidth": 0, "padding": 0}}}},
           {"data": {"name": "G_bar"}, "mark": {"type": "tick", "thickness": 2.5, "size": 103, "color": "#555"},
            "encoding": {"x": {"field": "m", "type": "nominal"}, "y": {"datum": -0.195, "type": "quantitative"}}},
           {"data": {"values": [{}]}, "mark": {"type": "rule", "strokeWidth": 2.5, "color": "#555"},
            "encoding": {"x": {"datum": "Adenine", "type": "nominal"}, "x2": {"datum": "Guanine"}, "y": {"datum": -0.745, "type": "quantitative"}}},
           {"data": {"values": [{"m": "Adenine"}, {"m": "Guanine"}, {"m": "Uracil"}]}, "mark": {"type": "rule", "strokeWidth": 2.5, "color": "#555"},
            "encoding": {"x": {"field": "m", "type": "nominal"}, "y": {"datum": -0.6, "type": "quantitative"}, "y2": {"datum": -0.745}}},
           {"data": {"name": "G_lbl"}, "mark": {"type": "text", "fontSize": 22, "color": "#333", "baseline": "middle"},
            "encoding": {"x": {"field": "m", "type": "nominal"}, "y": {"datum": -0.96, "type": "quantitative"}, "text": {"field": "t"}}}
          ]
         }
        ]
       },
       {
        "bounds": "flush",
        "spacing": 798,
        "resolve": {"scale": {"color": "independent", "fill": "independent", "xOffset": "independent", "x": "independent", "y": "independent"}, "legend": {"color": "independent"}},
        "hconcat": [
         {
          "title": {"text": "Purine nucleosides", "anchor": "middle", "frame": "group", "dx": 251, "offset": 69.5, "fontSize": 47},
          "resolve": {"scale": {"color": "independent", "fill": "independent", "xOffset": "independent", "x": "independent", "y": "independent"}, "legend": {"color": "independent"}},
          "hconcat": [
           {
            "width": 577, "height": 412,
            "title": {"text": "H", "anchor": "start", "frame": "group", "dx": -184, "offset": 10.5, "fontSize": 54},
            "layer": [
             {"data": {"name": "H_bar"}, "mark": {"type": "bar", "color": "#676868"},
              "encoding": {
               "x": {"field": "m", "type": "nominal", "scale": {"domain": ["Adenosine", "Inosine", "Guanosine"], "range": [0, 513], "paddingInner": 0, "paddingOuter": 0.074},
                     "axis": {"title": null, "labelAngle": 0, "labelFontSize": 22, "labelFontWeight": "normal", "labelColor": "#333", "ticks": false, "tickSize": 0, "labelBaseline": "middle", "labelPadding": 42, "domainColor": "#666"}},
               "xOffset": {"field": "g", "type": "nominal", "scale": {"domain": ["control", "GDM"], "paddingInner": 0.35, "paddingOuter": 0.175}},
               "y": {"field": "mean", "type": "quantitative", "scale": {"domain": [0, 70, 100, 600, 5000, 22000], "range": [412, 299, 263, 149, 113, 0], "nice": false, "zero": false},
                     "axis": {"title": ["Relative Abundance", "(× g tissue⁻¹)"], "values": [0, 30, 60, 300, 600, 10000, 20000], "format": "d", "labelFontSize": 29, "labelFontWeight": "bold", "tickSize": 13, "labelPadding": 5, "titleFontSize": 21, "titleFontWeight": "bold", "titleLineHeight": 30.5, "titlePadding": 17, "domainColor": "#666", "tickColor": "#666"}}
              }},
             {"data": {"name": "H_bar"}, "mark": {"type": "rule", "strokeWidth": 3, "color": "#000"},
              "encoding": {"x": {"field": "m", "type": "nominal"}, "xOffset": {"field": "g", "type": "nominal"}, "y": {"field": "lo", "type": "quantitative"}, "y2": {"field": "hi"}}},
             {"data": {"name": "H_bar"}, "mark": {"type": "tick", "thickness": 3, "size": 26, "color": "#000"},
              "encoding": {"x": {"field": "m", "type": "nominal"}, "xOffset": {"field": "g", "type": "nominal"}, "y": {"field": "lo", "type": "quantitative"}}},
             {"data": {"name": "H_bar"}, "mark": {"type": "tick", "thickness": 3, "size": 26, "color": "#000"},
              "encoding": {"x": {"field": "m", "type": "nominal"}, "xOffset": {"field": "g", "type": "nominal"}, "y": {"field": "hi", "type": "quantitative"}}},
             {"data": {"name": "H_gap"}, "mark": {"type": "rect", "fill": "white", "stroke": "white", "strokeWidth": 6},
              "encoding": {"y": {"field": "a", "type": "quantitative"}, "y2": {"field": "b"}}},
             {"data": {"name": "H_pts"}, "mark": {"type": "circle", "size": 180, "opacity": 1},
              "encoding": {"x": {"field": "m", "type": "nominal"}, "xOffset": {"field": "g", "type": "nominal"}, "y": {"field": "v", "type": "quantitative"},
               "color": {"field": "g", "type": "nominal", "scale": {"domain": ["control", "GDM"], "range": ["#000000", "#A10D12"]},
                "legend": {"orient": "none", "legendX": 354, "legendY": 19, "title": null, "symbolType": "circle", "symbolSize": 350, "labelFontSize": 21, "rowPadding": 14, "labelOffset": 5, "symbolStrokeWidth": 0, "padding": 0}}}},
             {"data": {"name": "H_bar"}, "mark": {"type": "tick", "thickness": 2.5, "size": 125, "color": "#555"},
              "encoding": {"x": {"field": "m", "type": "nominal"}, "y": {"datum": -11.8, "type": "quantitative"}}}
            ]
           }
          ]
         },
         {
          "title": {"text": "Pyrimidine nucleosides", "anchor": "middle", "frame": "group", "dx": 152, "offset": 73.5, "fontSize": 47},
          "resolve": {"scale": {"color": "independent", "fill": "independent", "xOffset": "independent", "x": "independent", "y": "independent"}, "legend": {"color": "independent"}},
          "hconcat": [
           {
            "width": 399, "height": 412,
            "title": {"text": "I", "anchor": "start", "frame": "group", "dx": -176, "offset": -2.5, "fontSize": 54},
            "layer": [
             {"data": {"name": "I_bar"}, "mark": {"type": "bar", "color": "#676868"},
              "encoding": {
               "x": {"field": "m", "type": "nominal", "scale": {"domain": ["Uridine", "Cytidine"], "paddingInner": 0, "paddingOuter": 0.084},
                     "axis": {"title": null, "labelAngle": 0, "labelFontSize": 22, "labelFontWeight": "normal", "labelColor": "#333", "ticks": false, "tickSize": 0, "labelBaseline": "middle", "labelPadding": 45, "domainColor": "#666"}},
               "xOffset": {"field": "g", "type": "nominal", "scale": {"domain": ["control", "GDM"], "paddingInner": 0.337, "paddingOuter": 0.168}},
               "y": {"field": "mean", "type": "quantitative", "scale": {"domain": [0, 4], "nice": false},
                     "axis": {"title": ["Relative Abundance", "(× g tissue⁻¹)"], "values": [0, 1, 2, 3, 4], "format": "d", "labelFontSize": 30, "labelFontWeight": "bold", "tickSize": 11, "labelPadding": 6, "titleFontSize": 21, "titleFontWeight": "bold", "titleLineHeight": 28, "titlePadding": 22, "domainColor": "#666", "tickColor": "#666"}}
              }},
             {"data": {"name": "I_bar"}, "mark": {"type": "rule", "strokeWidth": 3, "color": "#000"},
              "encoding": {"x": {"field": "m", "type": "nominal"}, "xOffset": {"field": "g", "type": "nominal"}, "y": {"field": "lo", "type": "quantitative"}, "y2": {"field": "hi"}}},
             {"data": {"name": "I_bar"}, "mark": {"type": "tick", "thickness": 3, "size": 33, "color": "#000"},
              "encoding": {"x": {"field": "m", "type": "nominal"}, "xOffset": {"field": "g", "type": "nominal"}, "y": {"field": "lo", "type": "quantitative"}}},
             {"data": {"name": "I_bar"}, "mark": {"type": "tick", "thickness": 3, "size": 33, "color": "#000"},
              "encoding": {"x": {"field": "m", "type": "nominal"}, "xOffset": {"field": "g", "type": "nominal"}, "y": {"field": "hi", "type": "quantitative"}}},
             {"data": {"name": "I_pts"}, "mark": {"type": "circle", "size": 180, "opacity": 1},
              "encoding": {"x": {"field": "m", "type": "nominal"}, "xOffset": {"field": "g", "type": "nominal"}, "y": {"field": "v", "type": "quantitative"},
               "color": {"field": "g", "type": "nominal", "scale": {"domain": ["control", "GDM"], "range": ["#000000", "#A10D12"]},
                "legend": {"orient": "none", "legendX": 272, "legendY": 11, "title": null, "symbolType": "circle", "symbolSize": 350, "labelFontSize": 21, "rowPadding": 14, "labelOffset": 5, "symbolStrokeWidth": 0, "padding": 0}}}},
             {"data": {"name": "I_bar"}, "mark": {"type": "tick", "thickness": 2.5, "size": 123, "color": "#555"},
              "encoding": {"x": {"field": "m", "type": "nominal"}, "y": {"datum": -0.233, "type": "quantitative"}}}
            ]
           }
          ]
         }
        ]
       }
      ]
     }
    ]
   },
   {
    "bounds": "flush",
    "spacing": 525,
    "title": {"text": "Choline intake vs placental and neonatal outcomes", "anchor": "start", "frame": "group", "dx": -19, "offset": 106.5, "fontSize": 47},
    "resolve": {"scale": {"color": "independent", "fill": "independent", "xOffset": "independent", "x": "independent", "y": "independent"}, "legend": {"color": "independent"}},
    "hconcat": [
     {
      "width": 577, "height": 489,
      "title": {"text": "J", "anchor": "start", "frame": "group", "dx": -196, "offset": 44.5, "fontSize": 54},
      "layer": [
       {"data": {"name": "J_pts"}, "mark": {"type": "circle", "size": 254, "opacity": 1},
        "encoding": {
         "x": {"field": "c", "type": "quantitative", "scale": {"domain": [280.5, 283], "range": [54, 541], "nice": false, "zero": false},
               "axis": {"title": ["Choline intake", "(mg)"], "values": [281, 282, 283], "format": "d", "labelFontSize": 34, "labelFontWeight": "bold", "tickSize": 18, "labelPadding": 12, "titleFontSize": 28, "titleFontWeight": "bold", "titlePadding": 18, "domainColor": "#555", "tickColor": "#555"}},
         "y": {"field": "v", "type": "quantitative", "scale": {"domain": [0, 40], "nice": false},
               "axis": {"title": ["Σ Methil donors in placental tissue", "(Choline, betaine, methionine, Serine, SAM)"], "offset": -54, "values": [0, 10, 20, 30, 40], "labelFontSize": 34, "labelFontWeight": "bold", "tickSize": 20, "labelPadding": 9, "titleFontSize": 28, "titleFontWeight": "bold", "titleLineHeight": 38, "titlePadding": 31, "domainColor": "#555", "tickColor": "#555"}},
         "color": {"field": "g", "type": "nominal", "scale": {"domain": ["control", "GDM"], "range": ["#000000", "#A10D12"]}, "legend": null}
        }},
       {"data": {"name": "J_txt"}, "mark": {"type": "text", "align": "left", "baseline": "top", "fontSize": 29, "color": "#333", "lineBreak": "\n", "lineHeight": 35},
        "encoding": {"x": {"field": "c", "type": "quantitative"}, "y": {"field": "v", "type": "quantitative"}, "text": {"field": "t"}}}
      ]
     },
     {
      "width": 489, "height": 489,
      "title": {"text": "K", "anchor": "start", "frame": "group", "dx": -225, "offset": 80.5, "fontSize": 54},
      "layer": [
       {"data": {"name": "K_pts"}, "mark": {"type": "circle", "size": 254, "opacity": 1},
        "encoding": {
         "x": {"field": "c", "type": "quantitative", "scale": {"domain": [280.5, 283], "nice": false, "zero": false},
               "axis": {"title": ["Choline intake", "(mg)"], "values": [281, 282, 283], "format": "d", "labelFontSize": 36, "labelFontWeight": "bold", "tickSize": 18, "labelPadding": 12, "titleFontSize": 28, "titleFontWeight": "bold", "titlePadding": 18, "domainColor": "#555", "tickColor": "#555"}},
         "y": {"field": "v", "type": "quantitative", "scale": {"domain": [2500, 5000], "nice": false, "zero": false},
               "axis": {"title": ["Birth weight", "(g)"], "values": [2500, 3000, 3500, 4000, 4500, 5000], "format": "d", "labelFontSize": 36, "labelFontWeight": "bold", "tickSize": 18, "labelPadding": 6, "titleFontSize": 28, "titleFontWeight": "bold", "titleLineHeight": 40, "titlePadding": 35, "domainColor": "#555", "tickColor": "#555"}},
         "color": {"field": "g", "type": "nominal", "scale": {"domain": ["control", "GDM"], "range": ["#000000", "#A10D12"]}, "legend": null}
        }},
       {"data": {"name": "K_txt"}, "mark": {"type": "text", "align": "left", "baseline": "top", "fontSize": 29, "color": "#333", "lineBreak": "\n", "lineHeight": 35},
        "encoding": {"x": {"field": "c", "type": "quantitative"}, "y": {"field": "v", "type": "quantitative"}, "text": {"field": "t"}}}
      ]
     },
     {
      "width": 488, "height": 489,
      "title": {"text": "L", "anchor": "start", "frame": "group", "dx": -216, "offset": 80.5, "fontSize": 54},
      "layer": [
       {"data": {"name": "L_pts"}, "mark": {"type": "circle", "size": 254, "opacity": 1},
        "encoding": {
         "x": {"field": "c", "type": "quantitative", "scale": {"domain": [280.5, 283], "nice": false, "zero": false},
               "axis": {"title": ["Choline intake", "(mg)"], "values": [281, 282, 283], "format": "d", "labelFontSize": 36, "labelFontWeight": "bold", "tickSize": 18, "labelPadding": 12, "titleFontSize": 28, "titleFontWeight": "bold", "titlePadding": 18, "domainColor": "#555", "tickColor": "#555"}},
         "y": {"field": "v", "type": "quantitative", "scale": {"domain": [42, 52], "nice": false, "zero": false},
               "axis": {"title": ["Birth Length", "(cm)"], "values": [42, 44, 46, 48, 50, 52], "format": "d", "labelFontSize": 36, "labelFontWeight": "bold", "tickSize": 19, "labelPadding": 7, "titleFontSize": 28, "titleFontWeight": "bold", "titleLineHeight": 37, "titlePadding": 53, "domainColor": "#555", "tickColor": "#555"}},
         "color": {"field": "g", "type": "nominal", "scale": {"domain": ["control", "GDM"], "range": ["#000000", "#A10D12"]}, "legend": null}
        }},
       {"data": {"name": "L_txt"}, "mark": {"type": "text", "align": "left", "baseline": "top", "fontSize": 29, "color": "#333", "lineBreak": "\n", "lineHeight": 35},
        "encoding": {"x": {"field": "c", "type": "quantitative"}, "y": {"field": "v", "type": "quantitative"}, "text": {"field": "t"}}}
      ]
     }
    ]
   }
  ]
 }
]
}
